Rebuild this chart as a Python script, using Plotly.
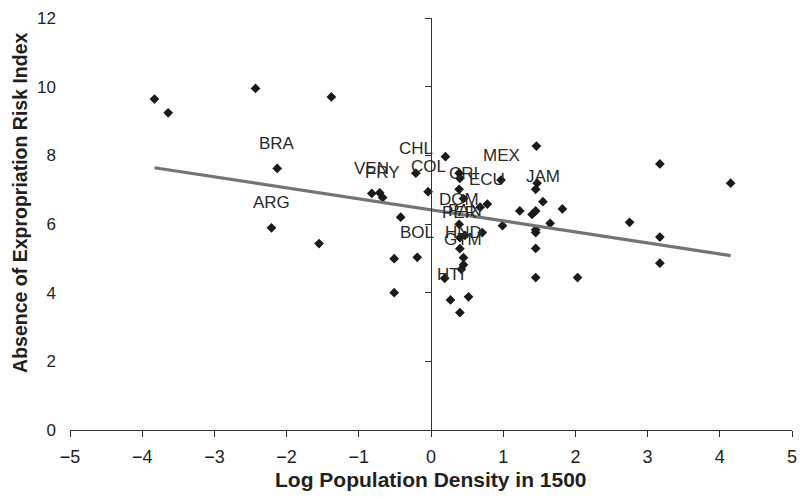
import plotly.graph_objects as go

# ---- data ----
labeled_codes = ["BRA", "ARG", "VEN", "PRY", "CHL", "COL", "BOL", "MEX", "ECU",
                 "JAM", "CRI", "DOM", "PAN", "PER", "HND", "GTM", "HTI"]
labeled_x = [-2.13, -2.21, -0.82, -0.67, -0.21, -0.04, -0.19, 0.97, 0.78,
             1.55, 0.45, 0.39, 0.47, 0.40, 0.45, 0.45, 0.27]
labeled_y = [7.62, 5.89, 6.89, 6.77, 7.48, 6.94, 5.03, 7.28, 6.58,
             6.65, 6.74, 5.99, 5.67, 5.60, 5.02, 4.81, 3.79]

other_x = [-3.83, -3.64, -2.43, -1.55, -1.38, -0.71, -0.42, -0.51, -0.51,
           0.20, 0.39, 0.40, 0.39, 0.68, 1.46, 1.47, 1.45, 1.23, 1.45, 1.40,
           1.82, 0.99, 1.65, 1.45, 1.45, 0.71, 0.40, 1.45, 0.42, 0.19, 1.45,
           2.03, 0.52, 0.40, 3.17, 4.15, 2.75, 3.17, 3.17]
other_y = [9.64, 9.24, 9.95, 5.43, 9.70, 6.91, 6.20, 4.99, 4.00,
           7.96, 7.48, 7.33, 7.01, 6.49, 8.27, 7.19, 7.01, 6.38, 6.38, 6.28,
           6.44, 5.95, 6.02, 5.83, 5.75, 5.75, 5.28, 5.29, 4.68, 4.42, 4.44,
           4.44, 3.88, 3.42, 7.75, 7.19, 6.05, 5.62, 4.86]

trend_intercept = 6.41
trend_slope = -0.321

x_ticks = [-5, -4, -3, -2, -1, 0, 1, 2, 3, 4, 5]
y_ticks = [0, 2, 4, 6, 8, 10, 12]

x_title = "Log Population Density in 1500"
y_title = "Absence of Expropriation Risk Index"

# ---- figure ----
FONT = "Liberation Sans, Arial, Helvetica, sans-serif"
TXT = "#231f20"

all_x = labeled_x + other_x
all_y = labeled_y + other_y
x_lo, x_hi = min(all_x), max(all_x)

fig = go.Figure()

fig.add_trace(go.Scatter(
    x=[x_lo, x_hi],
    y=[trend_intercept + trend_slope * x_lo, trend_intercept + trend_slope * x_hi],
    mode="lines", line=dict(color="#747474", width=3.2),
    yaxis="y2", hoverinfo="skip", showlegend=False))

fig.add_trace(go.Scatter(
    x=all_x, y=all_y, mode="markers",
    marker=dict(symbol="diamond", size=7.5, color="#1a1a1a", line=dict(width=0)),
    showlegend=False))

annotations = []
for code, xv, yv in zip(labeled_codes, labeled_x, labeled_y):
    annotations.append(dict(
        x=xv, y=yv, xref="x", yref="y", text=code, showarrow=False,
        yshift=25, xanchor="center", yanchor="middle",
        font=dict(family=FONT, size=17, color="#2a2a2a")))

annotations.append(dict(
    x=-0.0702, y=0.552, xref="paper", yref="paper", text="<b>" + y_title + "</b>",
    textangle=-90, showarrow=False, xanchor="center", yanchor="middle",
    font=dict(family=FONT, size=19.5, color=TXT)))
annotations.append(dict(
    x=0.5, y=-0.12, xref="paper", yref="paper", text="<b>" + x_title + "</b>",
    showarrow=False, xanchor="center", yanchor="middle",
    font=dict(family=FONT, size=21, color=TXT)))

fig.update_layout(
    width=805, height=499,
    margin=dict(l=70, r=8, t=18, b=69),
    paper_bgcolor="white", plot_bgcolor="white",
    font=dict(family=FONT, color=TXT),
    annotations=annotations,
    xaxis=dict(range=[-5, 5], tickvals=x_ticks, ticks="outside", ticklen=6,
               tickcolor="#333", showline=True, linecolor="#333", linewidth=1,
               showgrid=False, zeroline=False, tickfont=dict(size=18, color=TXT),
               ticklabelstandoff=4),
    yaxis=dict(range=[0, 12], tickvals=y_ticks, ticks="", showline=False,
               showgrid=False, zeroline=False, tickfont=dict(size=17, color=TXT),
               ticklabelstandoff=13),
    yaxis2=dict(range=[0, 12], tickvals=y_ticks, overlaying="y", anchor="free",
                position=0.5, side="left", ticks="outside", ticklen=6,
                tickcolor="#333", showline=True, linecolor="#333", linewidth=1,
                showticklabels=False, showgrid=False, zeroline=False),
)

fig.write_html("out.html")
